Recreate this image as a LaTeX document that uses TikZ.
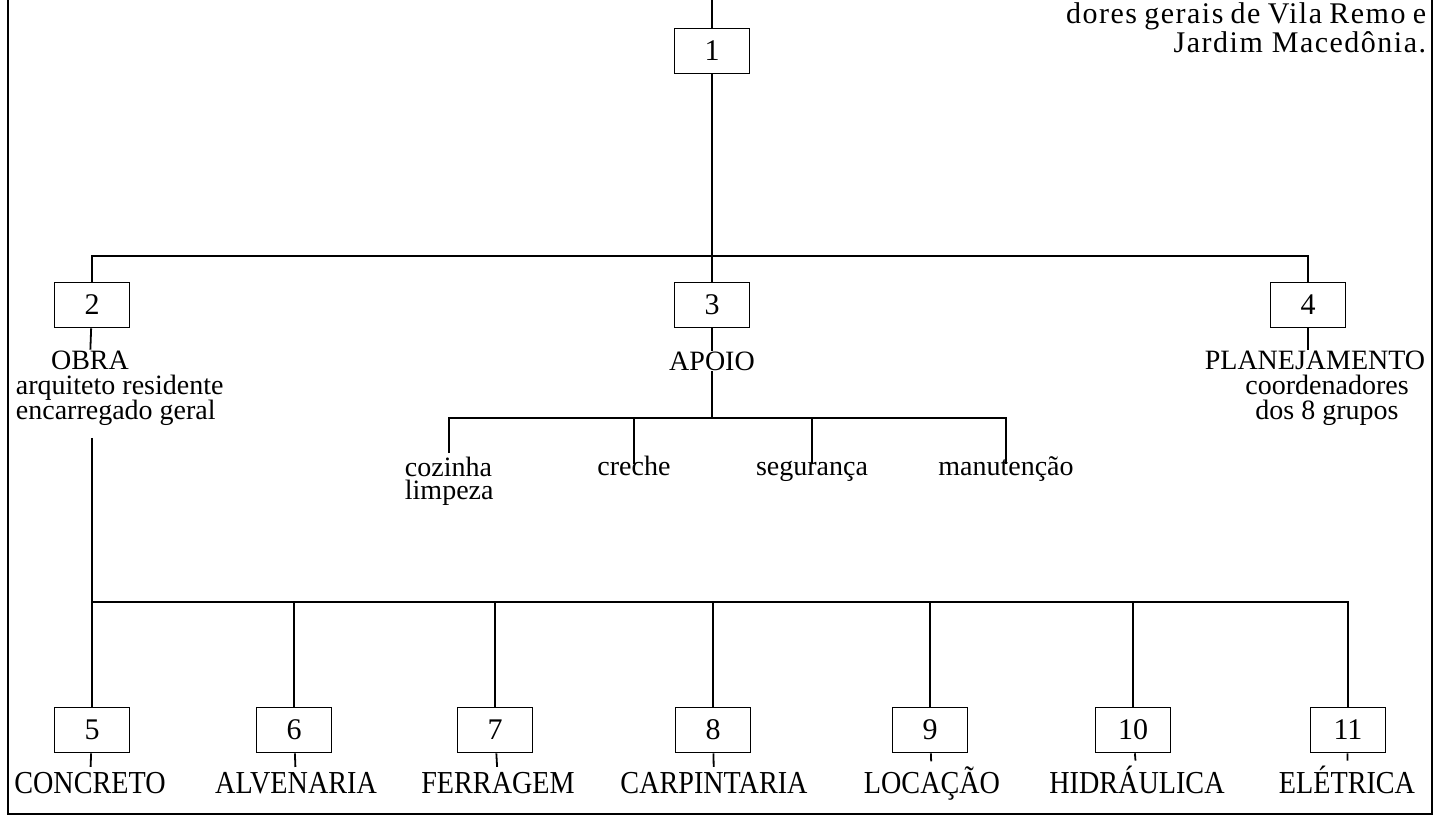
\documentclass[tikz,border=0pt]{standalone}
\usepackage{fontspec}
\setmainfont{Liberation Serif}
\newfontfamily\condfont[FakeStretch=0.88]{Liberation Serif}
\newfontfamily\spacedfont[LetterSpace=5]{Liberation Serif}
\begin{document}
\begin{tikzpicture}[x=1pt,y=-1pt, line width=1.8pt,
  box/.style={draw, line width=1.6pt, minimum width=75pt, minimum height=45pt, inner sep=0pt, font=\fontsize{30}{30}\selectfont},
  txt/.style={inner sep=0pt, font=\fontsize{28}{25}\selectfont},
  sub/.style={inner xsep=0pt, inner ysep=3pt, text height=0.72em, font=\fontsize{28}{23}\selectfont},
  subml/.style={inner xsep=0pt, inner ysep=3pt, align=left, font=\fontsize{28}{23}\selectfont},
  big/.style={inner xsep=0pt, inner ysep=4pt, font=\condfont\fontsize{32}{34}\selectfont},
  toptxt/.style={inner sep=0pt, font=\spacedfont\fontsize{30}{30}\selectfont}]
\useasboundingbox (0,0) rectangle (1439,818);
% frame
\draw (8,0) -- (8,814) -- (1432,814) -- (1432,0);
% top-right text
\node[toptxt, anchor=base east] (t1) at (1427,24) {\makebox[360pt][s]{dores gerais de Vila Remo e}};
\node[toptxt, anchor=base east] (t2) at (1427,53) {Jardim Macedônia.};
% level 1
\coordinate (top) at (712,0);
\node[box] (b1) at (712,51) {1};
\draw (top) -- (b1);
% level 2
\node[box] (b2) at (92,305) {2};
\node[box] (b3) at (712,305) {3};
\node[box] (b4) at (1308,305) {4};
\coordinate (j1) at (712,256);
\draw (b1) -- (b3);
\draw (b2.north) |- (j1) -| (b4.north);
% OBRA
\node[txt, anchor=base] (obra) at (90,369) {OBRA};
\node[txt, anchor=base west] (obra2) at (15,394) {arquiteto residente};
\node[txt, anchor=base west] (obra3) at (15,419) {encarregado geral};
\draw (b2) -- (obra);
% APOIO
\node[txt, anchor=base] (apoio) at (712,370) {APOIO};
\draw (b3) -- (apoio);
\coordinate (j3) at (712,418);
\draw (apoio) -- (j3);
\node[subml, anchor=north west] (coz) at (404,453) {cozinha\\limpeza};
\node[sub, anchor=base] (cre) at (634,475) {creche};
\node[sub, anchor=base] (seg) at (812,475) {segurança};
\node[sub, anchor=base] (man) at (1006,475) {manutenção};
\draw (coz.north) |- (j3) -| (man.north);
\draw (cre.north) -- (cre.north |- j3);
\draw (seg.north) -- (seg.north |- j3);
% PLANEJAMENTO
\node[txt, anchor=base] (plan) at (1315,369) {PLANEJAMENTO};
\node[txt, anchor=base] (coord) at (1327,394) {coordenadores};
\node[txt, anchor=base] (dos) at (1327,419) {dos 8 grupos};
\draw (b4) -- (b4.south |- plan.north);
% level 3
\node[box] (b5) at (92,730) {5};
\node[box] (b6) at (294,730) {6};
\node[box] (b7) at (495,730) {7};
\node[box] (b8) at (713,730) {8};
\node[box] (b9) at (930,730) {9};
\node[box] (b10) at (1133,730) {10};
\node[box] (b11) at (1348,730) {11};
\coordinate (j2) at (92,602);
\draw[shorten <=12pt] (b2.south |- obra3.south) -- (b5);
\draw (j2) -| (b11.north);
\foreach \b in {b6,b7,b8,b9,b10} {\draw (\b.north) -- (\b.north |- j2);}
% labels
\node[big, anchor=base] (l5) at (90,793) {CONCRETO};
\node[big, anchor=base] (l6) at (296,793) {ALVENARIA};
\node[big, anchor=base] (l7) at (498,793) {FERRAGEM};
\node[big, anchor=base] (l8) at (714,793) {CARPINTARIA};
\node[big, anchor=base] (l9) at (932,793) {LOCAÇÃO};
\node[big, anchor=base] (l10) at (1137,793) {HIDRÁULICA};
\node[big, anchor=base] (l11) at (1347,793) {ELÉTRICA};
\foreach \i in {5,...,11} {\draw (b\i) -- (l\i);}
\end{tikzpicture}
\end{document}
